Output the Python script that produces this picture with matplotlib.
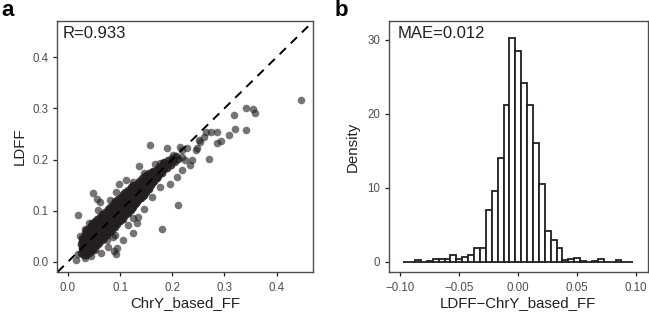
"""Two panel figure: LDFF against ChrY_based_FF, and the histogram of their difference."""
import matplotlib

matplotlib.use("Agg")
import matplotlib.pyplot as plt

plt.rcParams["font.family"] = ["Liberation Sans", "DejaVu Sans"]

DARK = "#231f20"
TICK = "#4d4d4d"

edge_x = [.447, .342, .354, .358, .319, .321, .342, .308, .293, .286, .285, .274, .271, .265, .260,
          .251, .245, .234, .157, .190, .136, .211, .180, .020, .049, .056, .097, .111, .124, .132,
          .106, .095, .093, .076, .063, .015, .033, .202, .218, .215, .228, .237, .218, .209, .196,
          .177, .161, .145, .125, .135, .090, .074, .087, .029, .020, .023, .033, .041, .058, .061,
          .081, .093, .125, .145, .167, .177, .253, .247, .218, .225, .088, .052, .045, .116, .206]
edge_y = [.317, .300, .298, .291, .288, .259, .258, .248, .236, .233, .253, .254, .201, .253, .245,
          .238, .219, .189, .228, .223, .187, .111, .064, .092, .134, .123, .152, .160, .056, .076,
          .042, .026, .015, .029, .017, .004, .007, .209, .219, .225, .222, .199, .179, .166, .153,
          .147, .127, .104, .085, .088, .052, .042, .049, .020, .016, .050, .065, .075, .101, .117,
          .121, .137, .157, .173, .192, .194, .235, .222, .205, .199, .021, .024, .012, .071, .195]

# panel a: the dense core, estimated column by column
core_x = [.025, .026, .025, .027, .026,
          .030, .031, .030, .029, .031, .030, .032,
          .035, .036, .035, .034, .036, .035, .037, .035,
          .040, .041, .040, .039, .041, .040, .042, .040,
          .045, .046, .045, .044, .046, .045, .047, .045, .046,
          .050, .051, .050, .049, .051, .050, .052, .050, .051,
          .055, .056, .055, .054, .056, .055, .057, .055, .056,
          .060, .061, .060, .059, .061, .060, .062, .060, .061,
          .065, .066, .065, .064, .066, .065, .067, .065, .066,
          .070, .071, .070, .069, .071, .070, .072, .070, .071,
          .075, .076, .075, .074, .076, .075, .077, .075, .076,
          .080, .081, .080, .079, .081, .080, .082, .080, .081,
          .085, .086, .085, .084, .086, .085, .087, .085, .086,
          .090, .091, .090, .089, .091, .090, .092, .090, .091,
          .095, .096, .095, .094, .096, .095, .097, .095, .096,
          .100, .101, .100, .099, .101, .100, .102, .100, .101,
          .105, .106, .105, .104, .106, .105, .107, .105, .106,
          .110, .111, .110, .109, .111, .110, .112, .110,
          .115, .116, .115, .114, .116, .115, .117, .115,
          .120, .121, .120, .119, .121, .120, .122, .120,
          .125, .126, .125, .124, .126, .125, .127, .125,
          .130, .131, .130, .129, .131, .130, .132,
          .135, .136, .135, .134, .136, .135, .137,
          .140, .141, .140, .139, .141, .140, .142,
          .145, .146, .145, .144, .146, .145, .147,
          .150, .151, .150, .149, .151, .150,
          .155, .156, .155, .154, .156, .155,
          .160, .161, .160, .159, .161,
          .165, .166, .165, .164,
          .170, .171, .170, .172,
          .175, .176, .175,
          .180, .181, .180, .182,
          .185, .186, .185,
          .190, .191, .192,
          .195, .197, .200, .204, .208, .211]
core_y = [.018, .026, .034, .041, .047,
          .014, .021, .028, .035, .042, .049, .056,
          .013, .020, .027, .034, .041, .048, .055, .062,
          .018, .025, .032, .039, .046, .053, .060, .067,
          .021, .028, .035, .042, .049, .056, .063, .070, .075,
          .025, .032, .039, .046, .053, .060, .067, .073, .079,
          .032, .039, .046, .052, .058, .064, .070, .076, .083,
          .037, .044, .051, .057, .063, .069, .075, .081, .088,
          .042, .049, .056, .062, .068, .074, .080, .086, .093,
          .047, .054, .061, .067, .073, .079, .085, .091, .098,
          .053, .060, .066, .072, .078, .084, .090, .096, .103,
          .058, .065, .071, .077, .083, .089, .095, .101, .108,
          .063, .070, .076, .082, .088, .094, .100, .106, .113,
          .069, .075, .081, .087, .093, .099, .105, .111, .118,
          .074, .080, .086, .092, .098, .104, .110, .116, .122,
          .079, .085, .091, .097, .103, .109, .115, .121, .127,
          .084, .090, .096, .102, .108, .114, .120, .126, .132,
          .091, .098, .105, .112, .118, .124, .130, .136,
          .096, .103, .110, .117, .123, .129, .135, .141,
          .101, .108, .115, .122, .128, .134, .140, .146,
          .107, .114, .121, .127, .133, .139, .145, .150,
          .114, .121, .128, .135, .141, .147, .153,
          .120, .127, .134, .140, .146, .152, .158,
          .125, .132, .139, .145, .151, .157, .163,
          .130, .137, .144, .150, .156, .162, .167,
          .137, .144, .151, .157, .163, .169,
          .143, .150, .157, .163, .169, .174,
          .150, .157, .164, .170, .176,
          .158, .165, .172, .178,
          .163, .170, .177, .183,
          .172, .179, .186,
          .174, .181, .188, .193,
          .182, .189, .196,
          .184, .192, .199,
          .196, .190, .203, .198, .207, .201]

# panel a: the inner band, where the cloud goes solid
inner_x = [.028, .029, .028, .030, .033, .032, .034, .033, .032, .034,
           .038, .037, .039, .038, .037, .039, .038, .043, .042, .044, .043, .042, .044, .043,
           .048, .047, .049, .048, .047, .049, .048, .053, .052, .054, .053, .052, .054, .053,
           .058, .057, .059, .058, .057, .059, .058, .063, .062, .064, .063, .062, .064, .063,
           .068, .067, .069, .068, .067, .069, .068, .073, .072, .074, .073, .072, .074, .073,
           .078, .077, .079, .078, .077, .079, .078, .083, .082, .084, .083, .082, .084, .083,
           .088, .087, .089, .088, .087, .089, .088, .093, .092, .094, .093, .092, .094, .093,
           .098, .097, .099, .098, .097, .099, .098, .103, .102, .104, .103, .102, .104, .103,
           .108, .107, .109, .108, .107, .109, .108, .113, .112, .114, .113, .112, .114, .113,
           .118, .117, .119, .118, .117, .119, .118, .123, .122, .124, .123, .122, .124, .123,
           .128, .127, .129, .128, .127, .129, .133, .132, .134, .133, .132, .134,
           .138, .137, .139, .138, .137, .139, .143, .142, .144, .143, .142, .144,
           .148, .147, .149, .148, .147, .153, .152, .154, .153, .152,
           .158, .157, .159, .158, .163, .162, .164, .163, .168, .167, .169,
           .173, .172, .174, .178, .177, .183, .184, .188]
inner_y = [.024, .031, .038, .045, .020, .027, .034, .041, .048, .054,
           .024, .030, .036, .042, .048, .054, .060, .027, .033, .039, .045, .051, .057, .063,
           .030, .036, .042, .048, .054, .060, .066, .035, .041, .047, .053, .059, .065, .071,
           .041, .047, .053, .059, .064, .070, .076, .046, .052, .058, .064, .069, .075, .081,
           .051, .057, .063, .069, .074, .080, .086, .056, .062, .068, .074, .079, .085, .091,
           .061, .067, .073, .079, .084, .090, .096, .066, .072, .078, .084, .089, .095, .101,
           .071, .077, .083, .089, .094, .100, .106, .076, .082, .088, .094, .099, .105, .111,
           .081, .087, .093, .099, .104, .110, .116, .086, .092, .098, .104, .109, .115, .121,
           .091, .097, .103, .109, .114, .120, .126, .096, .102, .108, .114, .119, .125, .131,
           .101, .107, .113, .119, .124, .130, .136, .106, .112, .118, .124, .129, .135, .140,
           .113, .119, .125, .131, .137, .143, .119, .125, .131, .137, .143, .149,
           .124, .130, .136, .142, .148, .154, .129, .135, .141, .147, .153, .159,
           .136, .142, .148, .154, .160, .142, .148, .154, .160, .166,
           .150, .156, .162, .168, .156, .162, .168, .174, .164, .170, .176,
           .168, .174, .180, .175, .182, .182, .188, .190]

# panel b: density per 0.005 wide bin
bin_centers = [-.095, -.090, -.085, -.080, -.075, -.070, -.065, -.060, -.055, -.050,
               -.045, -.040, -.035, -.030, -.025, -.020, -.015, -.010, -.005, 0.0,
               .005, .010, .015, .020, .025, .030, .035, .040, .045, .050,
               .055, .060, .065, .070, .075, .080, .085, .090, .095]
density = [0, 0, .25, 0, .15, .4, .4, .3, .9, .3,
           .6, .9, 1.8, 1.9, 7.0, 9.6, 14.0, 21.2, 30.2, 28.4,
           24.1, 21.2, 16.0, 10.5, 4.2, 2.9, 1.9, .2, .3, .45,
           .15, 0, .15, .3, 0, 0, .2, 0, 0]

W, H = 649, 312


def add_panel(fig, left, right, top, bottom):
    ax = fig.add_axes([left / W, 1 - bottom / H, (right - left) / W, (bottom - top) / H])
    for spine in ax.spines.values():
        spine.set_color(TICK)
        spine.set_linewidth(1.0)
    ax.tick_params(labelsize=8.3, labelcolor=TICK, color=DARK, length=3, width=0.9, pad=3)
    ax.tick_params(axis="x", pad=4.5)
    return ax


fig = plt.figure(figsize=(W / 100, H / 100), dpi=100)

ax_a = add_panel(fig, 57, 313, 21, 272)
ax_a.scatter(edge_x + core_x + inner_x, edge_y + core_y + inner_y, s=30, color=DARK, alpha=0.62,
             linewidths=0)
# the source has thousands of points here, so the readable band is stacked once more
ax_a.scatter(core_x + inner_x, core_y + inner_y, s=30, color=DARK, alpha=0.62, linewidths=0)
ax_a.axline((0, 0), slope=1, color="black", lw=1.4, linestyle=(0, (4.5, 3.5)))
ax_a.set_xlim(-0.021, 0.470)
ax_a.set_ylim(-0.020, 0.471)
ax_a.set_xticks([0.0, 0.1, 0.2, 0.3, 0.4])
ax_a.set_yticks([0.0, 0.1, 0.2, 0.3, 0.4])
ax_a.set_xlabel("ChrY_based_FF", fontsize=10.8, color=DARK, labelpad=1)
ax_a.set_ylabel("LDFF", fontsize=10.8, color=DARK, labelpad=4.5)
ax_a.text(63 / W, 1 - 33 / H, "R=0.933", transform=fig.transFigure, fontsize=12,
          color=DARK, va="center")

ax_b = add_panel(fig, 388.5, 648, 21, 272)
ax_b.bar(bin_centers, density, width=0.005, facecolor="white", edgecolor=DARK, linewidth=1.3)
ax_b.set_xlim(-0.110, 0.110)
ax_b.set_ylim(-1.4, 32.5)
ax_b.set_xticks([-0.10, -0.05, 0.0, 0.05, 0.10])
ax_b.set_xticklabels(["\u22120.10", "\u22120.05", "0.00", "0.05", "0.10"])
ax_b.set_yticks([0, 10, 20, 30])
ax_b.set_xlabel("LDFF\u2212ChrY_based_FF", fontsize=10.8, color=DARK, labelpad=1)
ax_b.set_ylabel("Density", fontsize=10.8, color=DARK, labelpad=5.5)
ax_b.text(398 / W, 1 - 33 / H, "MAE=0.012", transform=fig.transFigure, fontsize=12,
          color=DARK, va="center")

fig.text(1 / W, 1 - 11 / H, "a", fontsize=16, fontweight="bold", color="black", va="center")
fig.text(335 / W, 1 - 11 / H, "b", fontsize=16, fontweight="bold", color="black", va="center")

fig.savefig("out.png", dpi=100)
plt.close(fig)
